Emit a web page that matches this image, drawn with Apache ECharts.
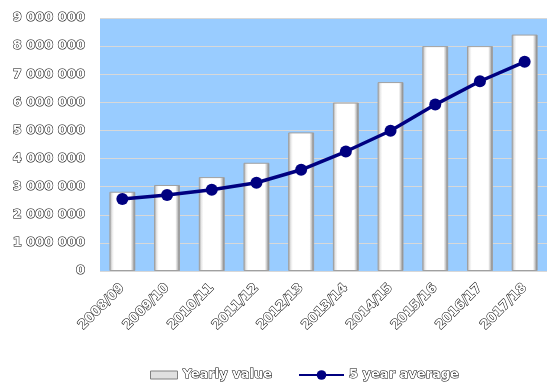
<!DOCTYPE html>
<html><head><meta charset="utf-8">
<script src="https://cdn.jsdelivr.net/npm/echarts@6/dist/echarts.min.js"></script>
<style>html,body{margin:0;padding:0;background:#fff}#c{width:560px;height:389px}</style>
</head><body><div id="c"></div>
<script>
const categories = ['2008/09','2009/10','2010/11','2011/12','2012/13','2013/14','2014/15','2015/16','2016/17','2017/18'];
const yearlyValue = [2820000,3060000,3340000,3850000,4930000,5990000,6720000,8000000,8000000,8410000];
const fiveYearAverage = [2560000,2700000,2890000,3140000,3600000,4250000,4990000,5920000,6750000,7440000];
const seriesNames = ['Yearly value','5 year average'];

const outlined = {color:'#fff', textBorderColor:'#000', textBorderWidth:1, fontFamily:'DejaVu Sans', fontWeight:'bold', fontSize:13};
const chart = echarts.init(document.getElementById('c'));
chart.setOption({
  animation:false,
  backgroundColor:'#fff',
  grid:{left:100,right:13,top:18,bottom:118,show:true,backgroundColor:'#99CCFF',borderWidth:0},
  legend:[
    {left:145,top:363,itemWidth:27,itemHeight:8,itemGap:0,textStyle:Object.assign({},outlined),
     itemStyle:{color:'#e0e0e0',borderColor:'#808080',borderWidth:1},
     data:[{name:seriesNames[0],icon:'rect'}]},
    {left:293,top:363,itemWidth:45,itemHeight:12,itemGap:0,textStyle:Object.assign({},outlined),
     data:[{name:seriesNames[1]}]}
  ],
  xAxis:{type:'category',data:categories,
    axisLine:{show:false},axisTick:{show:false},
    axisLabel:Object.assign({rotate:45,margin:15,interval:0},outlined)},
  yAxis:{type:'value',min:0,max:9000000,interval:1000000,
    axisLine:{show:false},axisTick:{show:false},
    splitLine:{lineStyle:{color:'#d8d8d8',width:1}},
    axisLabel:Object.assign({margin:15,formatter:v=>String(v).replace(/\B(?=(\d{3})+(?!\d))/g,' ')},outlined)},
  series:[
    {name:seriesNames[0],type:'bar',data:yearlyValue,barWidth:'58%',
     itemStyle:{borderColor:'#a0a0a0',borderWidth:1,
       color:new echarts.graphic.LinearGradient(0,0,1,0,[
         {offset:0,color:'#9a9a9a'},{offset:0.1,color:'#e8e8e8'},{offset:0.18,color:'#ffffff'},
         {offset:0.82,color:'#ffffff'},{offset:0.9,color:'#c8c8c8'},{offset:1,color:'#6a6a6a'}])}},
    {name:seriesNames[1],type:'line',data:fiveYearAverage,symbol:'circle',symbolSize:12,
     lineStyle:{color:'#000080',width:3.5},itemStyle:{color:'#000080'}}
  ]
});
</script></body></html>
